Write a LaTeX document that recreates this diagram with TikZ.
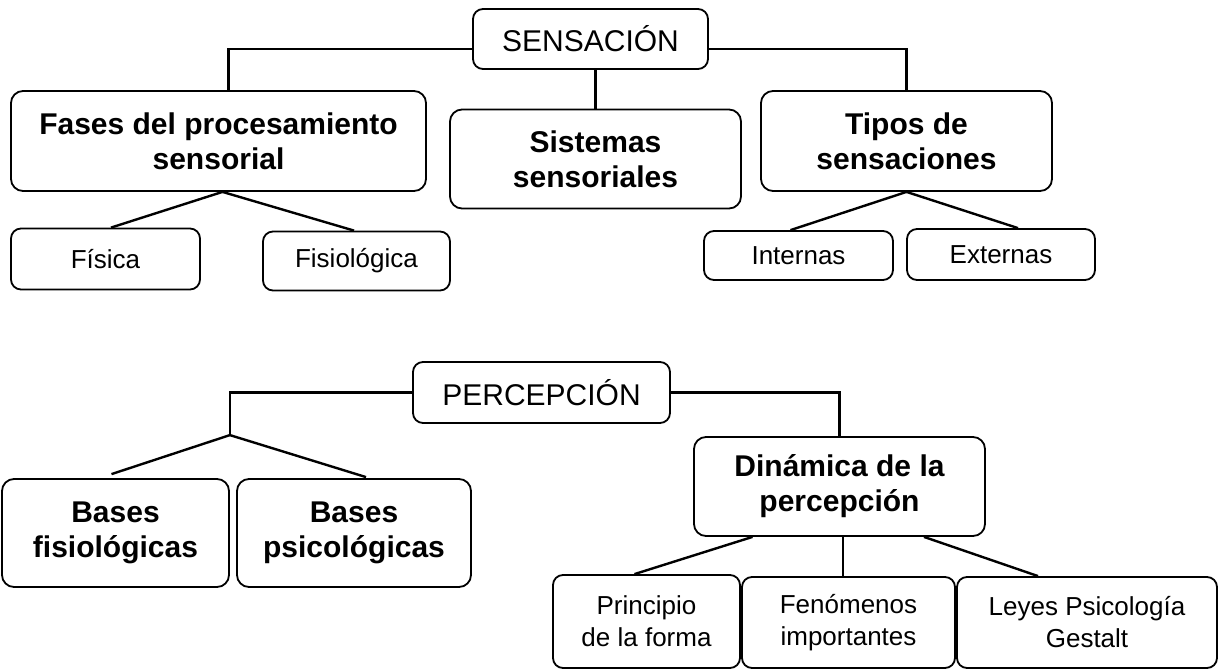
\documentclass[tikz,border=0pt]{standalone}
\usepackage{fontspec}
\setmainfont{Liberation Sans}
\usepackage{tikz}
\usetikzlibrary{positioning, calc}
\tikzstyle{root} = [rectangle, rounded corners=5pt, draw=black, line width=0.9pt, inner sep=0pt, text centered, font=\fontsize{15}{17}\selectfont]
\tikzstyle{branch} = [rectangle, rounded corners=6pt, draw=black, line width=0.9pt, inner sep=0pt, align=center, font=\bfseries\fontsize{15}{17.5}\selectfont]
\tikzstyle{leaf} = [rectangle, rounded corners=5pt, draw=black, line width=0.9pt, inner sep=0pt, align=center, font=\fontsize{13}{16}\selectfont]
\tikzstyle{link} = [line width=1.2pt]

\begin{document}
\begin{tikzpicture}[node distance=60pt]
\useasboundingbox (0,0) rectangle (610pt,-334.5pt);

% sensacion
\node (sens) [root, minimum width=117.5pt, minimum height=30pt] at (295.25pt,-19.5pt) {SENSACIÓN};
\node (fases) [branch, below of=sens, xshift=-186pt, yshift=9pt, minimum width=207.5pt, minimum height=50pt] {Fases del procesamiento\\sensorial};
\node (sist) [branch, below of=sens, xshift=2.5pt, minimum width=145.5pt, minimum height=49.5pt] {Sistemas\\sensoriales};
\node (tipos) [branch, below of=sens, xshift=158pt, yshift=9pt, minimum width=145.5pt, minimum height=50pt] {Tipos de\\sensaciones};
\node (fisica) [leaf, below of=fases, xshift=-56.5pt, yshift=1pt, minimum width=94.5pt, minimum height=30.5pt] {Física};
\node (fisio) [leaf, below of=fases, xshift=69pt, minimum width=93.5pt, minimum height=29.5pt] {Fisiológica};
\node (intern) [leaf, below of=tipos, xshift=-54pt, yshift=2.75pt, minimum width=94.5pt, minimum height=24.5pt] {Internas};
\node (extern) [leaf, below of=tipos, xshift=47.25pt, yshift=3.25pt, minimum width=94pt, minimum height=25.5pt] {Externas};

% percepcion
\node (perc) [root, minimum width=128.5pt, minimum height=30.5pt] at (270.75pt,-196.25pt) {PERCEPCIÓN};
\node (bfis) [branch, below of=perc, xshift=-213pt, yshift=-10.25pt, minimum width=113.5pt, minimum height=54pt] {Bases\\fisiológicas};
\node (bpsi) [branch, below of=perc, xshift=-93.75pt, yshift=-10.25pt, minimum width=117pt, minimum height=54pt] {Bases\\psicológicas};
\node (din) [branch, below of=perc, xshift=149pt, yshift=13pt, minimum width=145.5pt, minimum height=49.5pt] {Dinámica de la\\percepción};
\node (princ) [leaf, below of=din, xshift=-96.5pt, yshift=-7.5pt, minimum width=93.5pt, minimum height=46.5pt] {Principio\\de la forma};
\node (fenom) [leaf, below of=din, xshift=4.5pt, yshift=-8pt, minimum width=106.5pt, minimum height=45.5pt] {Fenómenos\\importantes};
\node (leyes) [leaf, below of=din, xshift=123.75pt, yshift=-8pt, minimum width=130pt, minimum height=45.5pt] {Leyes Psicología\\Gestalt};
\coordinate (pjoin) at ([yshift=21.5pt]bfis.north east);

\draw [link] ([yshift=-5pt]sens.west) -| ([xshift=5pt]fases.north);
\draw [link] ([yshift=-5pt]sens.east) -| (tipos.north);
\draw [link] (sist.north |- sens.south) -- (sist.north);
\draw [link] ([xshift=2pt]fases.south) -- ([xshift=2.75pt]fisica.north);
\draw [link] ([xshift=2pt]fases.south) -- ([xshift=-1.25pt]fisio.north);
\draw [link] (tipos.south) -- ([xshift=-4pt]intern.north);
\draw [link] (tipos.south) -- ([xshift=8.5pt]extern.north);

\draw [link] (perc.west) -| (pjoin);
\draw [link] (pjoin) -- ([xshift=-2pt,yshift=2pt]bfis.north);
\draw [link] (pjoin) -- ([xshift=6pt,yshift=0.5pt]bpsi.north);
\draw [link] (perc.east) -| (din.north);
\draw [link] ([xshift=-43.5pt]din.south) -- ([xshift=-6pt]princ.north);
\draw [link] ([xshift=1.75pt]din.south) -- ([xshift=1.75pt]din.south |- fenom.north);
\draw [link] ([xshift=42.25pt]din.south) -- ([xshift=-24.5pt]leyes.north);
\end{tikzpicture}
\end{document}
